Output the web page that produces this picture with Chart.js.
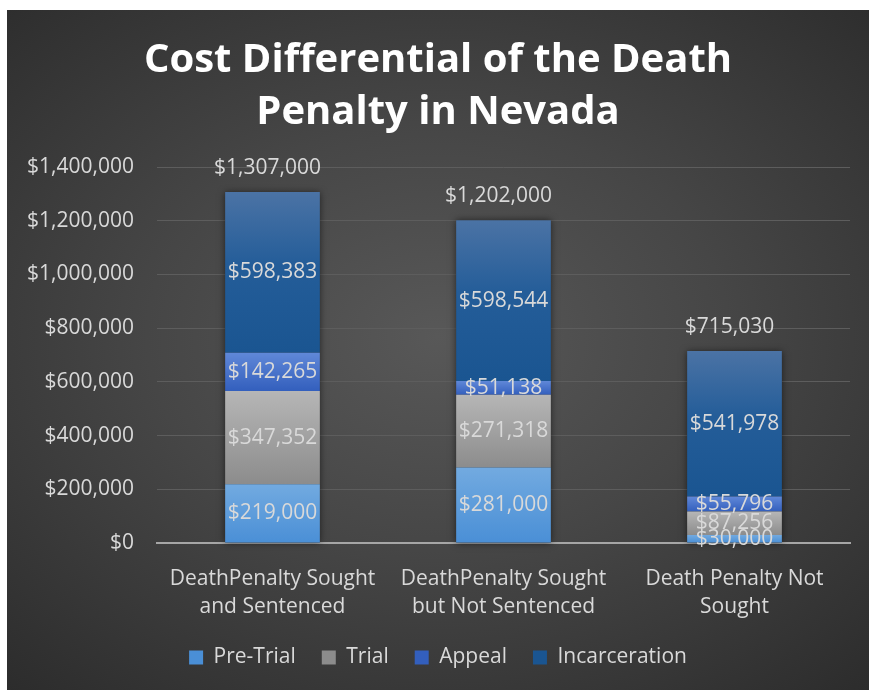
<!DOCTYPE html>
<html>
<head>
    <meta charset="utf-8">
    <title>Cost Differential of the Death Penalty in Nevada</title>
    <script src="https://cdn.jsdelivr.net/npm/chart.js@4.4.1/dist/chart.umd.min.js"></script>
    <style>
        html, body { margin: 0; padding: 0; background: #fff; }
        #wrap {
            position: absolute; left: 7px; top: 10px; width: 862px; height: 680px;
            background: radial-gradient(ellipse 75% 70% at 50% 48%, #585858 0%, #464646 45%, #2c2c2c 100%);
        }
    </style>
</head>
<body>
    <div id="wrap"><canvas id="chart"></canvas></div>
    <script>
    // chart data
    var categories = [["DeathPenalty Sought", "and Sentenced"], ["DeathPenalty Sought", "but Not Sentenced"], ["Death Penalty Not", "Sought"]];
    var preTrial = [219000, 281000, 30000];
    var trial = [347352, 271318, 87256];
    var appeal = [142265, 51138, 55796];
    var incarceration = [598383, 598544, 541978];
    var totals = [1307000, 1202000, 715030];
    var yMax = 1400000;
    var yStep = 200000;

    var fontFam = "'Open Sans', 'Noto Sans', sans-serif";
    var textCol = '#d9d9d9';

    function money(v) {
        return '$' + Math.round(v).toLocaleString('en-US');
    }

    // gradient over each stacked segment, light at top, dark at bottom
    function segFill(stops, solid) {
        return function(c) {
            var chart = c.chart;
            if (!chart.chartArea || c.dataIndex === undefined || !chart.scales.y) return solid;
            var base = 0;
            for (var i = 0; i < c.datasetIndex; i++) base += chart.data.datasets[i].data[c.dataIndex];
            var val = chart.data.datasets[c.datasetIndex].data[c.dataIndex];
            var yTop = chart.scales.y.getPixelForValue(base + val);
            var yBot = chart.scales.y.getPixelForValue(base);
            if (!isFinite(yTop) || !isFinite(yBot) || yBot - yTop < 1) return solid;
            var g = chart.ctx.createLinearGradient(0, yTop, 0, yBot);
            for (var s = 0; s < stops.length; s++) g.addColorStop(stops[s][0], stops[s][1]);
            return g;
        };
    }

    function stackTops(chart) {
        var tops = [];
        chart.data.datasets.forEach(function(ds, di) {
            chart.getDatasetMeta(di).data.forEach(function(el, i) {
                if (tops[i] === undefined) tops[i] = { x: el.x, y: el.y, base: el.base, w: el.width };
                else {
                    tops[i].y = Math.min(tops[i].y, el.y);
                    tops[i].base = Math.max(tops[i].base, el.base);
                }
            });
        });
        return tops;
    }

    // soft shadow behind each stacked column
    var barShadow = {
        id: 'barShadow',
        beforeDatasetsDraw: function(chart) {
            var ctx = chart.ctx;
            ctx.save();
            ctx.shadowColor = 'rgba(0,0,0,0.55)';
            ctx.shadowBlur = 7;
            ctx.fillStyle = '#333';
            stackTops(chart).forEach(function(t) {
                ctx.fillRect(t.x - t.w / 2, t.y, t.w, t.base - t.y);
            });
            ctx.restore();
        }
    };

    // segment values and totals on the bars
    var valueLabels = {
        id: 'valueLabels',
        afterDatasetsDraw: function(chart) {
            var ctx = chart.ctx;
            ctx.save();
            ctx.fillStyle = textCol;
            ctx.textAlign = 'center';
            ctx.textBaseline = 'middle';
            ctx.font = '21px ' + fontFam;
            chart.data.datasets.forEach(function(ds, di) {
                chart.getDatasetMeta(di).data.forEach(function(el, i) {
                    ctx.fillText(money(ds.data[i]), el.x, (el.y + el.base) / 2);
                });
            });
            stackTops(chart).forEach(function(t, i) {
                ctx.fillText(money(totals[i]), t.x - 5, t.y - 24);
            });
            ctx.restore();
        }
    };

    var ctx = document.getElementById('chart');
    var chart = new Chart(ctx, {
        type: 'bar',
        data: {
            labels: categories,
            datasets: [{
                label: 'Pre-Trial',
                data: preTrial,
                backgroundColor: segFill([[0, '#72aae0'], [1, '#4a8fd6']], '#5b9bd5')
            }, {
                label: 'Trial',
                data: trial,
                backgroundColor: segFill([[0, '#b6b6b6'], [1, '#8c8c8c']], '#a5a5a5')
            }, {
                label: 'Appeal',
                data: appeal,
                backgroundColor: segFill([[0, '#6088d8'], [1, '#335fbd']], '#4472c4')
            }, {
                label: 'Incarceration',
                data: incarceration,
                backgroundColor: segFill([[0, '#4b73a5'], [0.45, '#245d99'], [1, '#1a5591']], '#255e98')
            }]
        },
        options: {
            responsive: true,
            maintainAspectRatio: false,
            animation: false,
            categoryPercentage: 1,
            barPercentage: 0.41,
            layout: { padding: { left: 19, right: 19, bottom: 12 } },
            plugins: {
                title: {
                    display: true,
                    text: ['Cost Differential of the Death', 'Penalty in Nevada'],
                    color: '#ffffff',
                    font: { family: fontFam, size: 40, weight: 'bold', lineHeight: 1.3 },
                    padding: { top: 25, bottom: 28 }
                },
                legend: {
                    position: 'bottom',
                    labels: {
                        color: textCol,
                        font: { family: fontFam, size: 21 },
                        boxWidth: 14,
                        boxHeight: 14,
                        padding: 26
                    }
                },
                tooltip: { enabled: false }
            },
            scales: {
                x: {
                    stacked: true,
                    grid: { display: false, drawTicks: false },
                    border: { display: true, color: '#a6a6a6', width: 2 },
                    ticks: {
                        color: textCol,
                        font: { family: fontFam, size: 21, lineHeight: 1.333 },
                        padding: 22,
                        maxRotation: 0
                    },
                    afterFit: function(scale) { scale.height -= 22; }
                },
                y: {
                    stacked: true,
                    min: 0,
                    max: yMax,
                    grid: { color: '#5d5d5d', lineWidth: 1, drawTicks: false },
                    border: { display: false },
                    ticks: {
                        stepSize: yStep,
                        color: textCol,
                        font: { family: fontFam, size: 21 },
                        padding: 23,
                        callback: function(v) { return money(v); }
                    },
                    afterFit: function(scale) { scale.width = 131; }
                }
            }
        },
        plugins: [barShadow, valueLabels]
    });
    </script>
</body>
</html>
